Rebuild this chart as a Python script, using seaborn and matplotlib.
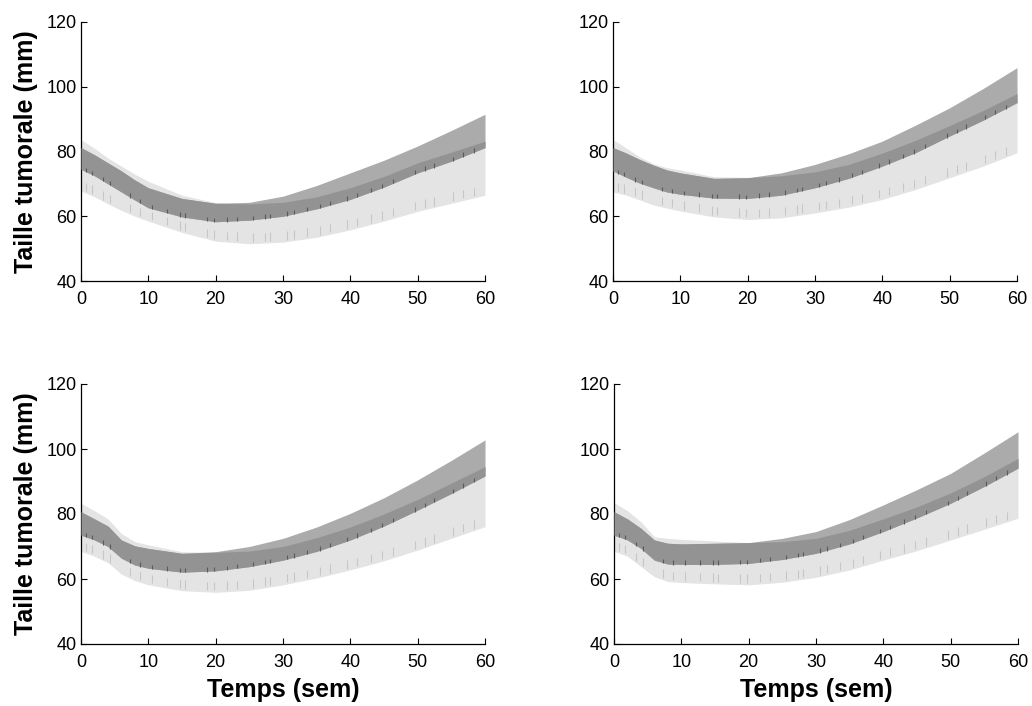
import numpy as np
import matplotlib
matplotlib.use("Agg")
import matplotlib.pyplot as plt
import seaborn as sns

# ---- data -------------------------------------------------------------
weeks = [0, 2, 4, 6, 8, 10, 15, 20, 25, 30, 35, 40, 45, 50, 55, 60]

# panel 1 (top left)
p1_light_lo = [67.8, 66.0, 63.8, 61.8, 60.0, 58.5, 55.0, 52.3, 51.5, 52.0, 53.5, 55.8, 58.5, 61.5, 64.0, 66.5]
p1_light_hi = [83.7, 81.0, 78.0, 75.5, 73.0, 70.8, 66.5, 64.2, 63.8, 64.3, 66.0, 68.8, 72.3, 76.5, 79.8, 83.2]
p1_grey_lo = [74.5, 72.5, 70.0, 67.5, 65.0, 62.6, 59.8, 58.3, 58.8, 60.0, 62.3, 65.2, 69.0, 73.4, 77.0, 81.2]
p1_grey_hi = [81.2, 79.0, 76.5, 74.0, 71.2, 68.8, 65.5, 64.0, 64.3, 66.2, 69.5, 73.4, 77.3, 81.7, 86.5, 91.5]

# panel 2 (top right)
p2_light_lo = [67.5, 66.5, 65.0, 63.5, 62.5, 61.6, 59.8, 59.0, 59.5, 61.0, 62.8, 65.2, 68.3, 71.9, 75.5, 79.6]
p2_light_hi = [83.7, 81.0, 78.3, 76.2, 75.0, 74.3, 72.2, 72.0, 72.5, 73.7, 76.0, 79.5, 83.5, 88.0, 92.7, 97.9]
p2_grey_lo = [74.0, 72.0, 70.2, 68.8, 67.5, 66.8, 65.6, 65.5, 66.5, 68.8, 71.7, 75.5, 79.7, 84.8, 89.7, 95.1]
p2_grey_hi = [81.2, 79.5, 77.5, 75.8, 74.3, 73.4, 71.7, 71.9, 73.4, 76.0, 79.3, 83.2, 88.2, 93.5, 99.5, 105.9]

# panel 3 (bottom left)
p3_light_lo = [68.5, 67.0, 65.0, 61.5, 59.5, 58.2, 56.4, 55.9, 56.5, 58.2, 60.3, 62.8, 65.6, 68.9, 72.5, 76.1]
p3_light_hi = [83.3, 81.0, 78.5, 74.0, 71.5, 70.5, 68.4, 68.2, 68.6, 70.0, 72.7, 76.0, 80.0, 84.5, 89.5, 94.6]
p3_grey_lo = [73.5, 72.0, 70.0, 66.4, 64.3, 63.3, 62.1, 62.5, 63.8, 65.8, 68.5, 72.0, 76.3, 81.2, 86.3, 91.7]
p3_grey_hi = [80.7, 78.5, 76.3, 72.0, 70.2, 69.4, 67.9, 68.4, 70.0, 72.5, 76.0, 80.2, 85.0, 90.5, 96.5, 102.8]

# panel 4 (bottom right)
p4_light_lo = [68.5, 67.0, 63.8, 60.7, 59.2, 58.9, 58.5, 58.2, 59.0, 60.5, 62.8, 65.8, 68.7, 72.0, 75.3, 78.7]
p4_light_hi = [83.5, 81.0, 77.6, 73.0, 72.5, 72.2, 71.7, 71.2, 71.5, 72.5, 75.0, 78.5, 82.2, 86.5, 91.5, 97.1]
p4_grey_lo = [73.5, 72.0, 69.4, 65.8, 64.6, 64.5, 64.5, 64.8, 66.0, 67.9, 70.8, 74.6, 78.8, 83.3, 88.5, 94.1]
p4_grey_hi = [80.7, 78.5, 75.6, 72.0, 71.0, 70.8, 71.0, 71.2, 72.5, 74.6, 78.3, 82.8, 87.5, 92.5, 98.8, 105.3]

# times of the small vertical marks inside the bands
mark_t = [0.8, 1.6, 3.3, 4.3, 7.3, 8.8, 10.5, 12.7, 14.7, 15.5, 18.7, 19.7, 21.7,
          23.2, 25.6, 27.3, 28.1, 30.6, 31.6, 33.5, 35.5, 37.0, 39.5, 41.0, 43.0,
          44.7, 46.4, 49.6, 51.1, 52.4, 55.3, 56.8, 58.3]

x_ticks = [0, 10, 20, 30, 40, 50, 60]
y_ticks = [40, 60, 80, 100, 120]
y_label = "Taille tumorale (mm)"
x_label = "Temps (sem)"

panels = [
    (p1_light_lo, p1_light_hi, p1_grey_lo, p1_grey_hi),
    (p2_light_lo, p2_light_hi, p2_grey_lo, p2_grey_hi),
    (p3_light_lo, p3_light_hi, p3_grey_lo, p3_grey_hi),
    (p4_light_lo, p4_light_hi, p4_grey_lo, p4_grey_hi),
]

# ---- style ------------------------------------------------------------
sns.set_theme(style="ticks")
plt.rcParams["font.family"] = ["Liberation Sans", "DejaVu Sans"]
plt.rcParams["text.color"] = "black"
plt.rcParams["axes.labelcolor"] = "black"

LIGHT = "#e4e4e4"
GREY = "#ababab"
DARK = "#939393"

fig = plt.figure(figsize=(10.32, 7.06), dpi=100)
W, H = 1032, 706
boxes = [(81, 22, 485, 281), (613, 22, 1017, 281),
         (81, 384, 485, 644), (614, 384, 1018, 644)]

for i, (box, (alo, ahi, blo, bhi)) in enumerate(zip(boxes, panels)):
    x0, y0, x1, y1 = box
    ax = fig.add_axes([x0 / W, 1 - y1 / H, (x1 - x0) / W, (y1 - y0) / H])
    t = np.array(weeks, dtype=float)
    alo, ahi, blo, bhi = map(np.array, (alo, ahi, blo, bhi))

    ax.fill_between(t, alo, ahi, color=LIGHT, lw=0, zorder=1)
    ax.fill_between(t, blo, bhi, color=GREY, lw=0, zorder=2)
    olo = np.maximum(alo, blo)
    ohi = np.minimum(ahi, bhi)
    ax.fill_between(t, olo, ohi, where=ohi > olo, interpolate=True,
                    color=DARK, lw=0, zorder=3)

    mt = np.array(mark_t)
    a_at = np.interp(mt, t, alo)
    b_at = np.interp(mt, t, blo)
    ax.vlines(mt, a_at + 0.6, a_at + 3.2, color="#c6c6c6", lw=0.8, zorder=4)
    ax.vlines(mt, b_at - 0.1, b_at + 1.2, color="#5a5a5a", lw=0.8, zorder=4)

    ax.set_xlim(0, 60)
    ax.set_ylim(40, 120)
    ax.set_xticks(x_ticks)
    ax.set_yticks(y_ticks)
    ax.tick_params(direction="in", length=4, width=0.8, labelsize=13,
                   colors="black")
    ax.tick_params(axis="x", pad=7)
    ax.tick_params(axis="y", pad=3)
    sns.despine(ax=ax)
    for s in ("left", "bottom"):
        ax.spines[s].set_linewidth(0.9)
        ax.spines[s].set_color("black")
    if i % 2 == 0:
        ax.set_ylabel(y_label, fontsize=18, fontweight="bold", labelpad=6,
                      color="black")
    if i >= 2:
        ax.set_xlabel(x_label, fontsize=18, fontweight="bold", labelpad=5,
                      color="black")

fig.savefig("out.png", dpi=100, facecolor="white")
